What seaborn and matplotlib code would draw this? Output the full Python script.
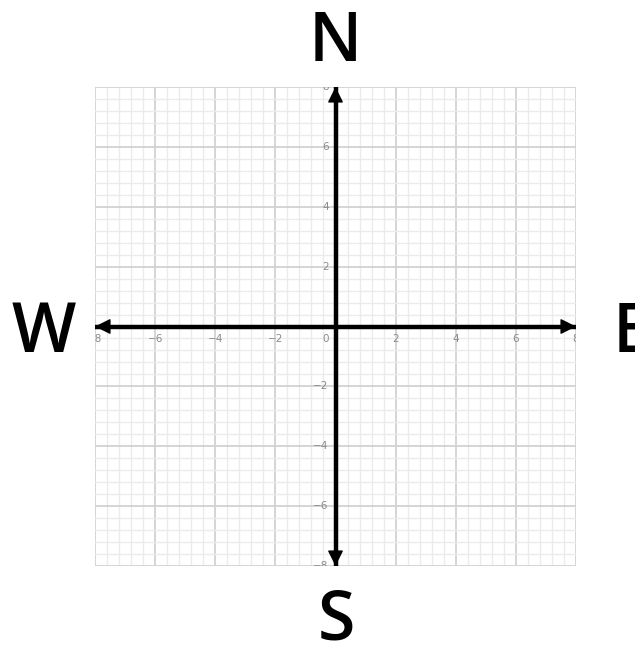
import numpy as np
import matplotlib
matplotlib.use("Agg")
import matplotlib.pyplot as plt
import seaborn as sns
import pandas as pd

# Data
x_range = [-8, 8]
y_range = [-8, 8]
x_tick_values = [-8, -6, -4, -2, 2, 4, 6, 8]
x_tick_labels = ["\u22128", "\u22126", "\u22124", "\u22122", "2", "4", "6", "8"]
y_tick_values = [-8, -6, -4, -2, 2, 4, 6, 8]
y_tick_labels = ["\u22128", "\u22126", "\u22124", "\u22122", "2", "4", "6", "8"]
origin_label = "0"
directions = ["N", "E", "S", "W"]

sns.set_style("white")
plt.rcParams['font.family'] = ['DejaVu Sans']

W, H = 635, 645
fig = plt.figure(figsize=(W / 100, H / 100), dpi=100)
ax = fig.add_axes([95 / W, 79 / H, 481 / W, 479 / H])

ax.set_xlim(*x_range)
ax.set_ylim(*y_range)
ax.xaxis.set_major_locator(matplotlib.ticker.MultipleLocator(2))
ax.yaxis.set_major_locator(matplotlib.ticker.MultipleLocator(2))
ax.xaxis.set_minor_locator(matplotlib.ticker.MultipleLocator(0.4))
ax.yaxis.set_minor_locator(matplotlib.ticker.MultipleLocator(0.4))
ax.grid(which="minor", color="#ebebeb", linewidth=1.0)
ax.grid(which="major", color="#d2d2d2", linewidth=1.3)
ax.set_axisbelow(True)
ax.tick_params(which="both", length=0, labelbottom=False, labelleft=False)
for s in ax.spines.values():
    s.set_visible(False)

# Axis shafts
df_x = pd.DataFrame({"x": x_range, "y": [0, 0]})
df_y = pd.DataFrame({"x": [0, 0], "y": y_range})
sns.lineplot(data=df_x, x="x", y="y", ax=ax, color="black", linewidth=3.2,
             sort=False, estimator=None)
sns.lineplot(data=df_y, x="x", y="y", ax=ax, color="black", linewidth=3.2,
             sort=False, estimator=None)
ax.set_xlim(*x_range)
ax.set_ylim(*y_range)
ax.set_xlabel("")
ax.set_ylabel("")

# Arrowheads
ap = dict(arrowstyle="-|>,head_length=0.6,head_width=0.3", color="black", lw=1,
          shrinkA=0, shrinkB=0, mutation_scale=16)
for (x0, y0, x1, y1) in [(7.0, 0, x_range[1], 0), (-7.0, 0, x_range[0], 0),
                         (0, 7.0, 0, y_range[1]), (0, -7.0, 0, y_range[0])]:
    ax.annotate("", xy=(x1, y1), xytext=(x0, y0), arrowprops=ap, annotation_clip=False)

# Tick labels (clipped to the plot area)
tc = "#8a8a8a"
for v, t in zip(x_tick_values, x_tick_labels):
    ax.text(v, -0.42, t, ha="center", va="center", fontsize=7.5, color=tc, clip_on=True)
for v, t in zip(y_tick_values, y_tick_labels):
    ax.text(-0.23, v, t, ha="right", va="center", fontsize=7.5, color=tc, clip_on=True)
ax.text(-0.23, -0.42, origin_label, ha="right", va="center", fontsize=7.5, color=tc)

# Compass letters
fk = dict(fontsize=49, family=["Open Sans", "DejaVu Sans"], fontweight="semibold",
          color="black", va="baseline")
fig.text(335 / W, 1 - 61 / H, directions[0], ha="center", **fk)
fig.text(613 / W, 1 - 352 / H, directions[1], ha="left", **fk)
fig.text(336 / W, 1 - 639 / H, directions[2], ha="center", **fk)
fig.text(44 / W, 1 - 352 / H, directions[3], ha="center", **fk)

fig.savefig("out.png", dpi=100, facecolor="white")
